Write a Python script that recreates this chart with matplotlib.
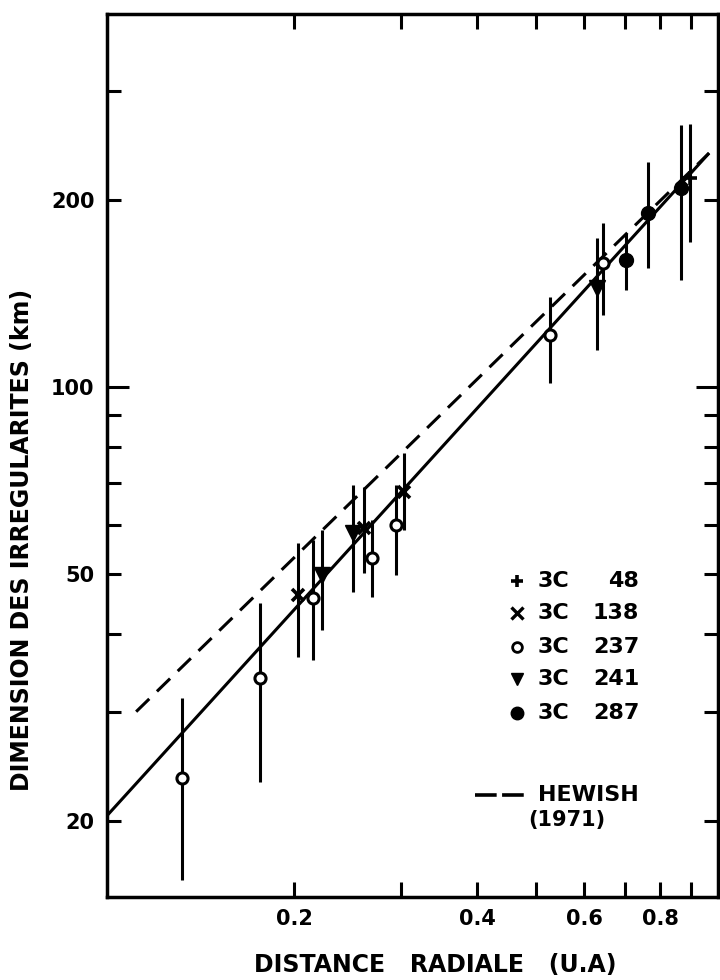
import numpy as np
import matplotlib
matplotlib.use("Agg")
import matplotlib.pyplot as plt
from matplotlib.ticker import FixedLocator, FixedFormatter, NullFormatter

# 3C 48 (+)
x48 = [0.896]
y48 = [217.0]
lo48 = [171.1]
hi48 = [265.1]

# 3C 138 (x)
x138 = [0.2031, 0.2607, 0.3033]
y138 = [46.2, 59.3, 67.7]
lo138 = [36.7, 50.2, 58.8]
hi138 = [56.1, 69.0, 78.3]

# 3C 237 (o)
x237 = [0.1308, 0.1758, 0.2149, 0.2687, 0.2943, 0.527, 0.644]
y237 = [23.5, 34.0, 45.7, 53.0, 59.9, 121.3, 158.3]
lo237 = [16.1, 23.1, 36.3, 45.9, 49.8, 101.5, 130.5]
hi237 = [31.6, 44.9, 56.7, 61.1, 69.5, 139.6, 183.7]

# 3C 241 (triangle)
x241 = [0.2224, 0.2501, 0.630]
y241 = [49.8, 58.2, 144.3]
lo241 = [40.6, 46.8, 114.7]
hi241 = [58.8, 69.5, 173.7]

# 3C 287 (filled circle)
x287 = [0.703, 0.764, 0.866]
y287 = [160.1, 190.6, 209.1]
lo287 = [143.2, 155.4, 148.7]
hi287 = [177.0, 230.3, 264.1]

# droite ajustee et loi de Hewish (1971)
fit_x = [0.0985, 0.963]
fit_y = [20.4, 238.0]
hew_x = [0.110, 0.963]
hew_y = [30.0, 238.0]

legend_num = ["48", "138", "237", "241", "287"]

plt.rcParams['font.family'] = ['DejaVu Sans']

fig = plt.figure(figsize=(7.2, 9.8), dpi=100)
ax = fig.add_axes([0.1486, 0.0847, 0.8486, 0.901])

ax.set_xscale("log")
ax.set_yscale("log")
ax.set_xlim(0.0985, 0.996)
ax.set_ylim(15.09, 398.6)

lw = 2.2
ax.plot(fit_x, fit_y, color="black", lw=lw, solid_capstyle="butt")
ax.plot(hew_x, hew_y, color="black", lw=lw, dashes=(6, 3.5))


def serie(x, y, lo, hi, **kw):
    y = np.array(y)
    err = [y - np.array(lo), np.array(hi) - y]
    ax.errorbar(x, y, yerr=err, fmt="none", ecolor="black", elinewidth=lw, capsize=0)
    ax.plot(x, y, ls="none", color="black", **kw)


serie(x237, y237, lo237, hi237, marker="o", ms=8, mfc="white", mec="black", mew=2.2)
serie(x241, y241, lo241, hi241, marker="v", ms=11, mfc="black", mec="black")
serie(x138, y138, lo138, hi138, marker="x", ms=9, mew=2.6)
serie(x48, y48, lo48, hi48, marker="+", ms=10, mew=2.6)
serie(x287, y287, lo287, hi287, marker="o", ms=10, mfc="black", mec="black")

# axes / ticks
for s in ax.spines.values():
    s.set_linewidth(2.5)

ax.xaxis.set_major_locator(FixedLocator([0.2, 0.4, 0.6, 0.8]))
ax.xaxis.set_major_formatter(FixedFormatter(["0.2", "0.4", "0.6", "0.8"]))
ax.xaxis.set_minor_locator(FixedLocator([0.3, 0.5, 0.7, 0.9]))
ax.xaxis.set_minor_formatter(NullFormatter())

ax.yaxis.set_major_locator(FixedLocator([100]))
ax.yaxis.set_major_formatter(FixedFormatter(["100"]))
ax.yaxis.set_minor_locator(FixedLocator([20, 30, 40, 50, 60, 70, 80, 90, 200, 300]))
ax.yaxis.set_minor_formatter(FixedFormatter(["20", "", "", "50", "", "", "", "", "200", ""]))

ax.tick_params(axis="both", which="both", direction="in", width=2.2,
               top=True, right=True, labelsize=15, colors="black")
ax.tick_params(axis="x", which="both", length=11, pad=9)
ax.tick_params(axis="y", which="minor", length=10, pad=9)
ax.tick_params(axis="y", which="major", length=16, pad=9)
for t in ax.get_xticklabels() + ax.get_yticklabels(which="both"):
    t.set_fontweight("bold")

fig.text(22 / 720, 1 - 540 / 980, "DIMENSION DES IRREGULARITES (km)", rotation=90,
         ha="center", va="center", fontsize=17, fontweight="bold")
fig.text(435 / 720, 1 - 965 / 980, "DISTANCE   RADIALE   (U.A)",
         ha="center", va="center", fontsize=17, fontweight="bold")

# legende
mk = [dict(marker="+", ms=9, mew=2.6, color="black"),
      dict(marker="x", ms=8, mew=2.4, color="black"),
      dict(marker="o", ms=7, mfc="white", mec="black", mew=2.0),
      dict(marker="v", ms=9, color="black"),
      dict(marker="o", ms=9, color="black")]
rows = [0.358, 0.322, 0.283, 0.247, 0.208]
for r, m, n in zip(rows, mk, legend_num):
    ax.plot([0.671], [r], ls="none", transform=ax.transAxes, clip_on=False, **m)
    ax.text(0.705, r, "3C", transform=ax.transAxes, ha="left", va="center",
            fontsize=16, fontweight="bold")
    ax.text(0.871, r, n, transform=ax.transAxes, ha="right", va="center",
            fontsize=16, fontweight="bold")

ax.plot([0.602, 0.689], [0.1155, 0.1155], color="black", lw=2.6, dashes=(6, 1.5),
        transform=ax.transAxes)
ax.text(0.705, 0.1155, "HEWISH", transform=ax.transAxes, ha="left", va="center",
        fontsize=16, fontweight="bold")
ax.text(0.689, 0.087, "(1971)", transform=ax.transAxes, ha="left", va="center",
        fontsize=15, fontweight="bold")

fig.savefig("out.png", dpi=100)
